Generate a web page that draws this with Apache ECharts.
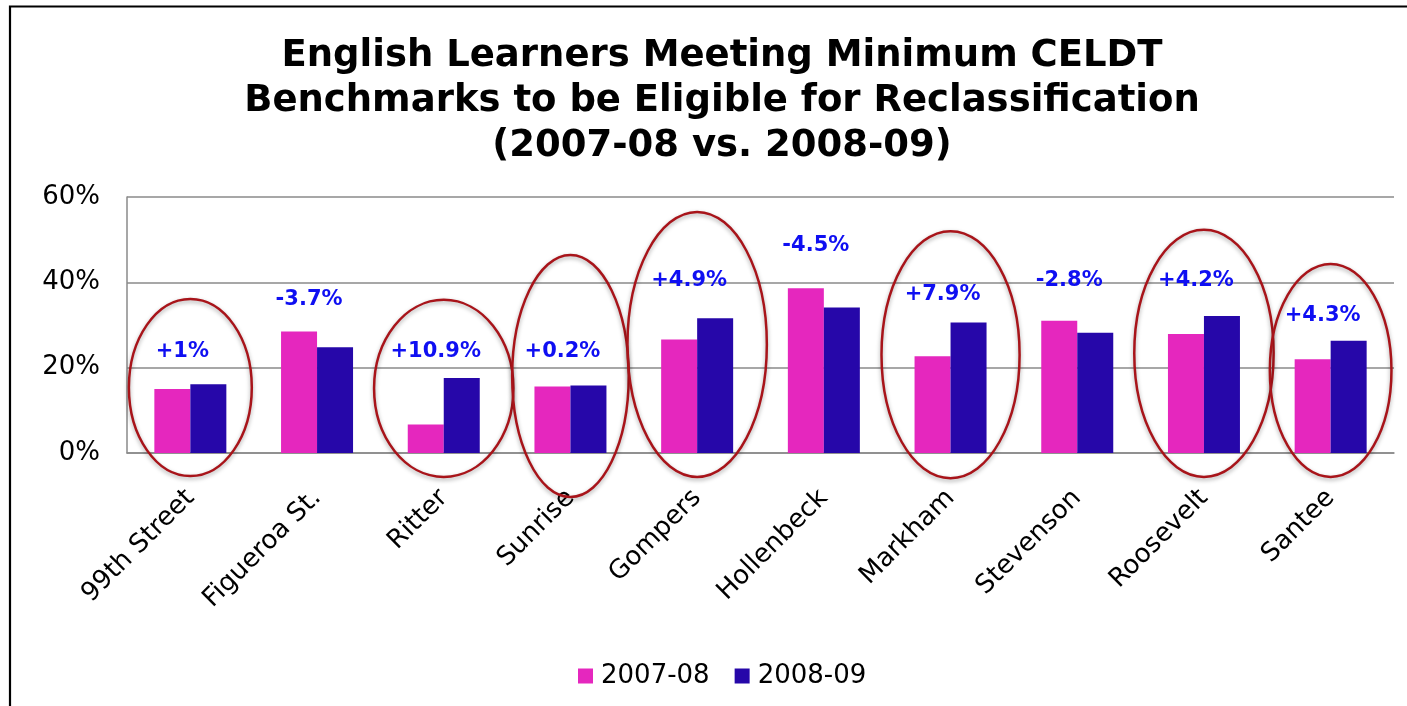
<!DOCTYPE html>
<html>
<head>
<meta charset="utf-8">
<script src="https://cdn.jsdelivr.net/npm/echarts@6/dist/echarts.min.js"></script>
<style>
html,body{margin:0;padding:0;background:#fff;}
#chart{width:1407px;height:706px;}
</style>
</head>
<body>
<div id="chart"></div>
<script>
const categories = ['99th Street','Figueroa St.','Ritter','Sunrise','Gompers','Hollenbeck','Markham','Stevenson','Roosevelt','Santee'];
const values0708 = [15.0, 28.5, 6.7, 15.6, 26.6, 38.6, 22.7, 31.0, 27.9, 22.0];
const values0809 = [16.1, 24.8, 17.6, 15.8, 31.6, 34.1, 30.6, 28.2, 32.1, 26.3];
const changeLabels = ['+1%','-3.7%','+10.9%','+0.2%','+4.9%','-4.5%','+7.9%','-2.8%','+4.2%','+4.3%'];
// value (in %) at which each change annotation sits
const changeLabelAt = [24.1, 36.4, 24.1, 24.1, 40.8, 49.0, 37.5, 40.8, 40.8, 32.6];
// circled categories: [category index, top %, bottom %, width as fraction of category band]
const circledIdx = [0, 2, 3, 4, 6, 8, 9];
const circleTop = [36.1, 35.9, 46.4, 56.5, 52.0, 52.3, 44.3];
const circleBottom = [-5.4, -5.6, -10.3, -5.6, -5.9, -5.6, -5.6];
const circleWidth = [0.97, 1.10, 0.92, 1.10, 1.09, 1.10, 0.96];
const yTicks = {min: 0, max: 60, interval: 20};

const FONT = 'DejaVu Sans';
const chart = echarts.init(document.getElementById('chart'));
const ellipseData = circledIdx.map((c, i) => [c, circleTop[i], circleBottom[i], circleWidth[i]]);
const labelData = changeLabels.map((t, i) => ({value: [i, changeLabelAt[i]], name: t}));

chart.setOption({
  animation: false,
  backgroundColor: '#fff',
  graphic: [{
    type: 'rect', silent: true, z: 0,
    shape: {x: 10, y: 6.5, width: 1430, height: 730},
    style: {fill: 'none', stroke: '#000', lineWidth: 2.2}
  }],
  title: {
    text: 'English Learners Meeting Minimum CELDT\nBenchmarks to be Eligible for Reclassification\n(2007-08 vs. 2008-09)',
    left: 717, top: 29, textAlign: 'center',
    textStyle: {fontFamily: FONT, fontWeight: 'bold', fontSize: 37, lineHeight: 45, color: '#000'}
  },
  legend: {
    data: ['2007-08', '2008-09'],
    left: 573, top: 658,
    itemWidth: 15, itemHeight: 15, itemGap: 25,
    icon: 'rect',
    textStyle: {fontFamily: FONT, fontSize: 26, color: '#000', padding: [0, 0, 0, 3]}
  },
  grid: {left: 127, right: 13, top: 197, bottom: 253, containLabel: false},
  xAxis: {
    type: 'category', data: categories,
    axisLine: {lineStyle: {color: '#8a8a8a', width: 1.5}},
    axisTick: {show: false},
    axisLabel: {interval: 0, rotate: 45, margin: 41, fontFamily: FONT, fontSize: 26, color: '#000'}
  },
  yAxis: {
    type: 'value', min: yTicks.min, max: yTicks.max, interval: yTicks.interval,
    axisLine: {show: true, lineStyle: {color: '#8a8a8a', width: 1.5}},
    axisTick: {show: false},
    splitLine: {lineStyle: {color: '#8a8a8a', width: 1.5}},
    axisLabel: {formatter: '{value}%', margin: 27, fontFamily: FONT, fontSize: 26, color: '#000'}
  },
  series: [
    {name: '2007-08', type: 'bar', data: values0708, barWidth: 36, barGap: '0%',
      itemStyle: {color: '#E527BE'}},
    {name: '2008-09', type: 'bar', data: values0809, barWidth: 36, barGap: '0%',
      itemStyle: {color: '#2607A9'}},
    {name: 'change', type: 'scatter', data: labelData, symbolSize: 0,
      itemStyle: {opacity: 0}, silent: true, z: 5,
      label: {show: true, position: 'top', distance: 0, offset: [-8, 12], opacity: 1,
        formatter: p => p.name, textBorderWidth: 0,
        fontFamily: FONT, fontWeight: 'bold', fontSize: 21, color: '#0F0FF2'}},
    {name: 'circles', type: 'custom', data: ellipseData, clip: false, silent: true, z: 10,
      encode: {x: 0, y: [1, 2]},
      renderItem: function (params, api) {
        const c = api.value(0);
        const p1 = api.coord([c, api.value(1)]);
        const p2 = api.coord([c, api.value(2)]);
        const bw = api.size([1, 0])[0];
        return {
          type: 'ellipse',
          shape: {cx: p1[0], cy: (p1[1] + p2[1]) / 2, rx: bw * api.value(3) / 2, ry: (p2[1] - p1[1]) / 2},
          style: {fill: 'none', stroke: '#A8141A', lineWidth: 2.5,
            shadowBlur: 4, shadowColor: 'rgba(0,0,0,0.35)', shadowOffsetY: 2}
        };
      }}
  ]
});
</script>
</body>
</html>
